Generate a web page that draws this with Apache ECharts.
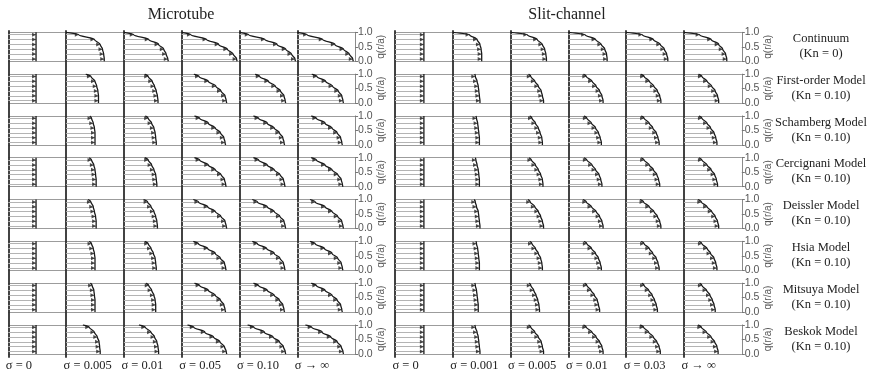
<!DOCTYPE html>
<html>
<head>
<meta charset="utf-8">
<script src="https://cdn.jsdelivr.net/npm/echarts@6/dist/echarts.min.js"></script>
<style>
  html, body { margin: 0; padding: 0; background: #fff; }
  #chart { width: 877px; height: 378px; }
</style>
</head>
<body>
<div id="chart"></div>
<script>
// Normalised radial position q = r/a at which each profile value is given
const qLevels = [0, 0.083, 0.25, 0.417, 0.583, 0.75, 0.917, 1];
// Velocity arrows are drawn at the interior levels (indices 1..6)
const arrowIdx = [1, 2, 3, 4, 5, 6];
const qTicks = [0, 0.5, 1];

const microSigma = ['σ = 0', 'σ = 0.005', 'σ = 0.01', 'σ = 0.05', 'σ = 0.10', 'σ → ∞'];
const slitSigma = ['σ = 0', 'σ = 0.001', 'σ = 0.005', 'σ = 0.01', 'σ = 0.03', 'σ → ∞'];
const modelNames = ['Continuum', 'First-order Model', 'Schamberg Model', 'Cercignani Model',
  'Deissler Model', 'Hsia Model', 'Mitsuya Model', 'Beskok Model'];
const knLabels = ['(Kn = 0)', '(Kn = 0.10)', '(Kn = 0.10)', '(Kn = 0.10)',
  '(Kn = 0.10)', '(Kn = 0.10)', '(Kn = 0.10)', '(Kn = 0.10)'];

// Velocity profiles u(q), one array per σ column, values at qLevels
const microPlug = [0.48, 0.48, 0.48, 0.48, 0.48, 0.48, 0.48, 0.48];
const slitPlug = [0.5, 0.5, 0.5, 0.5, 0.5, 0.5, 0.5, 0.5];

const microContinuum = [
  microPlug,
  [0.66, 0.66, 0.65, 0.63, 0.59, 0.49, 0.22, 0],
  [0.77, 0.76, 0.73, 0.69, 0.6, 0.43, 0.17, 0],
  [0.96, 0.95, 0.89, 0.79, 0.64, 0.43, 0.16, 0],
  [0.97, 0.96, 0.9, 0.8, 0.65, 0.44, 0.16, 0],
  [0.97, 0.96, 0.9, 0.8, 0.65, 0.44, 0.17, 0]
];
const microFirstOrder = [
  microPlug,
  [0.56, 0.56, 0.56, 0.55, 0.53, 0.5, 0.43, 0.34],
  [0.59, 0.59, 0.58, 0.56, 0.53, 0.49, 0.42, 0.36],
  [0.78, 0.77, 0.75, 0.68, 0.59, 0.46, 0.3, 0.21],
  [0.8, 0.79, 0.77, 0.71, 0.62, 0.5, 0.35, 0.27],
  [0.8, 0.79, 0.77, 0.71, 0.61, 0.49, 0.34, 0.25]
];
const microSchamberg = [
  microPlug,
  [0.5, 0.5, 0.5, 0.5, 0.49, 0.47, 0.44, 0.41],
  [0.56, 0.56, 0.55, 0.54, 0.52, 0.48, 0.42, 0.37],
  [0.76, 0.75, 0.73, 0.67, 0.58, 0.46, 0.31, 0.22],
  [0.78, 0.77, 0.75, 0.69, 0.6, 0.48, 0.33, 0.24],
  [0.78, 0.77, 0.75, 0.69, 0.6, 0.48, 0.33, 0.24]
];
const microCercignani = [
  microPlug,
  [0.52, 0.52, 0.52, 0.51, 0.5, 0.48, 0.44, 0.4],
  [0.57, 0.57, 0.56, 0.55, 0.52, 0.48, 0.42, 0.36],
  [0.77, 0.76, 0.74, 0.68, 0.58, 0.46, 0.31, 0.22],
  [0.79, 0.78, 0.76, 0.7, 0.6, 0.48, 0.33, 0.24],
  [0.79, 0.78, 0.76, 0.7, 0.6, 0.48, 0.33, 0.24]
];
const microDeissler = [
  microPlug,
  [0.52, 0.52, 0.52, 0.51, 0.49, 0.47, 0.43, 0.38],
  [0.58, 0.58, 0.57, 0.55, 0.52, 0.47, 0.41, 0.34],
  [0.78, 0.77, 0.75, 0.68, 0.58, 0.45, 0.29, 0.2],
  [0.8, 0.79, 0.77, 0.7, 0.6, 0.48, 0.31, 0.22],
  [0.8, 0.79, 0.77, 0.7, 0.6, 0.48, 0.31, 0.22]
];
const microHsia = [
  microPlug,
  [0.5, 0.5, 0.5, 0.5, 0.49, 0.47, 0.44, 0.4],
  [0.56, 0.56, 0.55, 0.54, 0.51, 0.47, 0.42, 0.36],
  [0.77, 0.76, 0.74, 0.67, 0.58, 0.45, 0.29, 0.2],
  [0.79, 0.78, 0.76, 0.7, 0.6, 0.47, 0.31, 0.22],
  [0.79, 0.78, 0.76, 0.7, 0.6, 0.47, 0.31, 0.22]
];
const microMitsuya = [
  microPlug,
  [0.5, 0.5, 0.5, 0.5, 0.49, 0.48, 0.45, 0.42],
  [0.55, 0.55, 0.55, 0.54, 0.52, 0.48, 0.43, 0.38],
  [0.76, 0.75, 0.73, 0.67, 0.58, 0.46, 0.31, 0.22],
  [0.78, 0.77, 0.75, 0.69, 0.6, 0.48, 0.33, 0.24],
  [0.78, 0.77, 0.75, 0.69, 0.6, 0.48, 0.33, 0.24]
];
const microBeskok = [
  microPlug,
  [0.59, 0.59, 0.58, 0.57, 0.54, 0.49, 0.4, 0.29],
  [0.6, 0.6, 0.59, 0.57, 0.53, 0.47, 0.37, 0.26],
  [0.78, 0.77, 0.74, 0.66, 0.55, 0.4, 0.21, 0.1],
  [0.8, 0.79, 0.76, 0.69, 0.58, 0.43, 0.25, 0.14],
  [0.8, 0.79, 0.76, 0.69, 0.58, 0.43, 0.25, 0.14]
];

const slitContinuum = [
  slitPlug,
  [0.5, 0.5, 0.5, 0.49, 0.47, 0.42, 0.29, 0],
  [0.62, 0.62, 0.61, 0.59, 0.55, 0.46, 0.29, 0],
  [0.67, 0.67, 0.66, 0.63, 0.57, 0.47, 0.29, 0],
  [0.72, 0.72, 0.7, 0.66, 0.59, 0.47, 0.28, 0],
  [0.74, 0.74, 0.72, 0.67, 0.6, 0.47, 0.27, 0]
];
const slitFirstOrder = [
  slitPlug,
  [0.47, 0.47, 0.46, 0.45, 0.44, 0.42, 0.39, 0.38],
  [0.57, 0.57, 0.55, 0.53, 0.48, 0.42, 0.35, 0.31],
  [0.6, 0.6, 0.58, 0.54, 0.48, 0.41, 0.31, 0.26],
  [0.6, 0.6, 0.58, 0.54, 0.48, 0.4, 0.31, 0.25],
  [0.6, 0.6, 0.58, 0.54, 0.48, 0.4, 0.31, 0.25]
];
const slitSchamberg = [
  slitPlug,
  [0.46, 0.46, 0.46, 0.45, 0.44, 0.43, 0.41, 0.4],
  [0.55, 0.55, 0.54, 0.51, 0.48, 0.43, 0.37, 0.33],
  [0.57, 0.57, 0.55, 0.52, 0.47, 0.4, 0.32, 0.27],
  [0.57, 0.57, 0.55, 0.52, 0.46, 0.4, 0.31, 0.26],
  [0.57, 0.57, 0.55, 0.52, 0.46, 0.4, 0.31, 0.26]
];
const slitCercignani = [
  slitPlug,
  [0.46, 0.46, 0.46, 0.45, 0.44, 0.42, 0.4, 0.39],
  [0.56, 0.56, 0.55, 0.52, 0.48, 0.43, 0.36, 0.32],
  [0.58, 0.58, 0.56, 0.53, 0.47, 0.41, 0.32, 0.27],
  [0.58, 0.58, 0.56, 0.53, 0.47, 0.4, 0.31, 0.26],
  [0.58, 0.58, 0.56, 0.53, 0.47, 0.4, 0.31, 0.26]
];
const slitDeissler = [
  slitPlug,
  [0.47, 0.47, 0.46, 0.45, 0.44, 0.41, 0.39, 0.37],
  [0.57, 0.57, 0.55, 0.52, 0.48, 0.42, 0.34, 0.3],
  [0.6, 0.6, 0.58, 0.54, 0.48, 0.4, 0.31, 0.25],
  [0.6, 0.6, 0.58, 0.54, 0.48, 0.4, 0.3, 0.24],
  [0.6, 0.6, 0.58, 0.54, 0.48, 0.4, 0.3, 0.24]
];
const slitHsia = [
  slitPlug,
  [0.46, 0.46, 0.46, 0.45, 0.44, 0.43, 0.41, 0.4],
  [0.55, 0.55, 0.54, 0.52, 0.48, 0.43, 0.37, 0.33],
  [0.57, 0.57, 0.55, 0.52, 0.47, 0.4, 0.32, 0.27],
  [0.57, 0.57, 0.55, 0.52, 0.46, 0.4, 0.31, 0.26],
  [0.57, 0.57, 0.55, 0.52, 0.46, 0.4, 0.31, 0.26]
];
const slitMitsuya = [
  slitPlug,
  [0.44, 0.44, 0.44, 0.43, 0.42, 0.41, 0.39, 0.38],
  [0.5, 0.5, 0.49, 0.47, 0.44, 0.4, 0.35, 0.32],
  [0.54, 0.54, 0.52, 0.5, 0.45, 0.39, 0.32, 0.28],
  [0.54, 0.54, 0.52, 0.49, 0.45, 0.39, 0.31, 0.27],
  [0.54, 0.54, 0.52, 0.49, 0.45, 0.39, 0.31, 0.27]
];
const slitBeskok = [
  slitPlug,
  [0.47, 0.47, 0.46, 0.45, 0.44, 0.42, 0.39, 0.38],
  [0.57, 0.57, 0.55, 0.53, 0.48, 0.42, 0.35, 0.31],
  [0.6, 0.6, 0.58, 0.54, 0.48, 0.41, 0.31, 0.26],
  [0.59, 0.59, 0.57, 0.53, 0.47, 0.39, 0.3, 0.24],
  [0.59, 0.59, 0.57, 0.53, 0.47, 0.39, 0.3, 0.24]
];

// ---- layout ----
const COL_W = 57.8;
const ROW_TOP = 32.3;
const ROW_PITCH = 41.8;
const ROW_H = 29;
const LABEL_X = 821;
const SERIF = '"Liberation Serif", "Times New Roman", serif';
const SANS = '"Liberation Sans", Arial, sans-serif';

const panels = [
  {
    title: 'Microtube', titleX: 181, x0: 8.3, sigma: microSigma,
    rows: [microContinuum, microFirstOrder, microSchamberg, microCercignani,
      microDeissler, microHsia, microMitsuya, microBeskok]
  },
  {
    title: 'Slit-channel', titleX: 567, x0: 395, sigma: slitSigma,
    rows: [slitContinuum, slitFirstOrder, slitSchamberg, slitCercignani,
      slitDeissler, slitHsia, slitMitsuya, slitBeskok]
  }
];

const grid = [], xAxis = [], yAxis = [], series = [], graphic = [];

panels.forEach(panel => {
  panel.rows.forEach((rowProfiles, r) => {
    rowProfiles.forEach((prof, c) => {
      const gi = grid.length;
      grid.push({
        left: panel.x0 + c * COL_W,
        top: ROW_TOP + r * ROW_PITCH,
        width: COL_W,
        height: ROW_H
      });
      xAxis.push({ gridIndex: gi, type: 'value', min: 0, max: 1, show: false });
      const yi = yAxis.length;
      yAxis.push({
        gridIndex: gi, type: 'value', min: 0, max: 1, interval: 1, position: 'left',
        axisLine: { show: false }, axisTick: { show: false }, axisLabel: { show: false },
        splitLine: { show: true, lineStyle: { color: '#9c9c9c', width: 1 } }
      });
      if (c === rowProfiles.length - 1) {
        // q(r/a) scale on the right edge of each row
        yAxis.push({
          gridIndex: gi, type: 'value', min: 0, max: 1, interval: 0.5, position: 'right',
          axisLine: { show: true, lineStyle: { color: '#8a8a8a', width: 1 } },
          axisTick: { show: true, length: 3, lineStyle: { color: '#777' } },
          splitLine: { show: false },
          axisLabel: {
            show: true, margin: 3, fontSize: 10.5, fontFamily: SANS, color: '#555',
            formatter: v => (qTicks.indexOf(v) >= 0 ? v.toFixed(1) : '')
          },
          name: 'q(r/a)', nameLocation: 'middle', nameGap: 15, nameRotate: 90,
          nameTextStyle: { fontSize: 10, fontFamily: SANS, color: '#555' }
        });
      }
      // arrow shafts
      series.push({
        type: 'lines', coordinateSystem: 'cartesian2d', xAxisIndex: gi, yAxisIndex: yi,
        silent: true, symbol: 'none', polyline: false,
        lineStyle: { color: '#b4b4b4', width: 1, opacity: 1 },
        data: arrowIdx.map(i => ({ coords: [[0, qLevels[i]], [prof[i], qLevels[i]]] }))
      });
      // arrow heads
      series.push({
        type: 'scatter', xAxisIndex: gi, yAxisIndex: yi, silent: true,
        symbol: 'triangle', symbolRotate: -90, symbolSize: [4, 4], symbolOffset: [-2, 0],
        itemStyle: { color: '#222' },
        data: arrowIdx.map(i => [prof[i], qLevels[i]])
      });
      // velocity profile
      series.push({
        type: 'line', xAxisIndex: gi, yAxisIndex: yi, silent: true,
        showSymbol: false, smooth: 0.35, smoothMonotone: 'y',
        lineStyle: { color: '#1a1a1a', width: 1.3 },
        data: qLevels.map((q, i) => [prof[i], q])
      });
    });
  });

  // walls: one thick vertical line per σ column, spanning all rows
  panel.sigma.forEach((label, c) => {
    const gi = grid.length;
    grid.push({ left: panel.x0 + c * COL_W, top: 31, width: COL_W, height: 326 });
    xAxis.push({ gridIndex: gi, type: 'value', min: 0, max: 1, show: false });
    yAxis.push({
      gridIndex: gi, type: 'value', min: 0, max: 1, position: 'left',
      axisLine: { show: true, onZero: false, lineStyle: { color: '#2e2e2e', width: 1.8 } },
      axisTick: { show: false }, axisLabel: { show: false }, splitLine: { show: false }
    });
    graphic.push({
      type: 'text', x: panel.x0 + c * COL_W - 2.5, y: 366,
      style: { text: label, font: '12.5px ' + SERIF, fill: '#222', align: 'left', verticalAlign: 'middle' }
    });
  });

  graphic.push({
    type: 'text', x: panel.titleX, y: 15,
    style: { text: panel.title, font: '16px ' + SERIF, fill: '#222', align: 'center', verticalAlign: 'middle' }
  });
});

modelNames.forEach((name, r) => {
  const top = ROW_TOP + r * ROW_PITCH;
  graphic.push({
    type: 'text', x: LABEL_X, y: top + 6.5,
    style: { text: name, font: '12.5px ' + SERIF, fill: '#222', align: 'center', verticalAlign: 'middle' }
  });
  graphic.push({
    type: 'text', x: LABEL_X, y: top + 21.5,
    style: { text: knLabels[r], font: '12.5px ' + SERIF, fill: '#222', align: 'center', verticalAlign: 'middle' }
  });
});

const chart = echarts.init(document.getElementById('chart'), null, { renderer: 'canvas' });
chart.setOption({
  animation: false,
  backgroundColor: '#ffffff',
  grid, xAxis, yAxis, series, graphic
});
</script>
</body>
</html>
